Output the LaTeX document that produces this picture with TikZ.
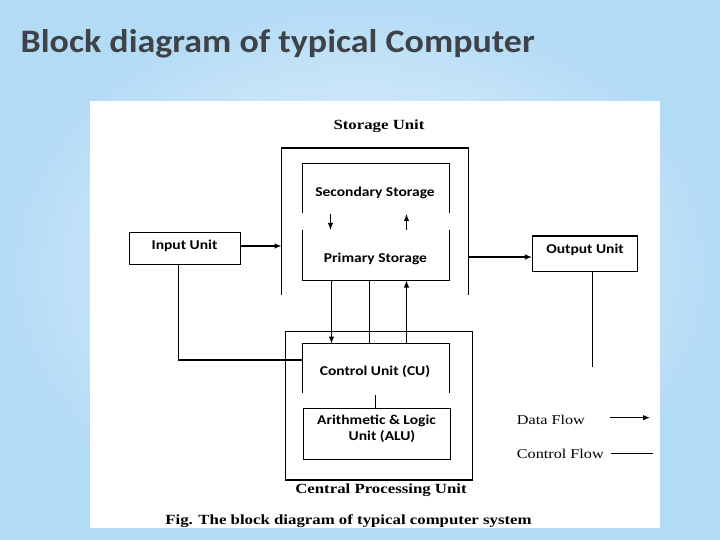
\documentclass[tikz,border=0pt]{standalone}
\usepackage{fontspec}
\usepackage{graphicx}
\usetikzlibrary{arrows.meta,calc}
\setmainfont{Liberation Serif}
\newfontfamily\lblfont{Carlito}
\definecolor{titlegray}{HTML}{3E4249}
\definecolor{bginner}{HTML}{F2F9FE}
\definecolor{bgouter}{HTML}{B4DBF5}
\newcommand\hsc[1]{\scalebox{1.15}[1]{#1}}
\newcommand\hsserif[1]{\scalebox{1.2}[1]{#1}}
\newcommand\hslegend[1]{\scalebox{1.2}[1]{#1}}
\begin{document}
\begin{tikzpicture}[x=1pt,y=-1pt,
  wire/.style={draw=black, line width=1.1pt},
  box/.style={draw=black, line width=1.1pt, rectangle, inner sep=0pt, fill=white},
  lbl/.style={font=\lblfont\bfseries\fontsize{13.5}{16}\selectfont, inner sep=0pt, anchor=base},
  ser/.style={font=\bfseries\fontsize{14}{16}\selectfont, inner sep=0pt, anchor=base},
  leg/.style={font=\fontsize{13.5}{15}\selectfont, inner sep=0pt, anchor=base west},
  arr/.style={wire, -{Latex[length=7pt,width=5.5pt]}},
]
\shade[inner color=bginner, outer color=bgouter] (0,0) rectangle (720,540);
\useasboundingbox (0,0) rectangle (720,540);
\fill[white] (89.5,101.5) rectangle (660,527.5);

% title
\node[anchor=base west, inner sep=0pt, text=titlegray, font=\lblfont\bfseries\fontsize{36}{40}\selectfont] (title) at (20.5,53) {\resizebox{514pt}{23pt}{Block diagram of typical Computer}};

% storage unit outer (open bottom)
\coordinate (suBL) at (281.5,295);
\coordinate (suTL) at (281.5,148);
\coordinate (suTR) at (468.5,148);
\coordinate (suBR) at (468.5,295);
\draw[wire] (suBL) -- (suTL) -- (suTR) -- (suBR);
\node[ser] (sulabel) at (379,129.5) {\hsserif{Storage Unit}};

% secondary storage bracket
\coordinate (ssBL) at (302.5,213);
\coordinate (ssTL) at (302.5,163.5);
\coordinate (ssTR) at (449.5,163.5);
\coordinate (ssBR) at (449.5,213);
\draw[wire] (ssBL) -- (ssTL) -- (ssTR) -- (ssBR);
\node[lbl] (sslabel) at (375,196.5) {\hsc{Secondary Storage}};

% primary storage bracket
\coordinate (psTL) at (302.5,230);
\coordinate (psBL) at (302.5,280.5);
\coordinate (psBR) at (449.5,280.5);
\coordinate (psTR) at (449.5,230);
\draw[wire] (psTL) -- (psBL) -- (psBR) -- (psTR);
\node[lbl] (pslabel) at (375.5,262.5) {\hsc{Primary Storage}};

% secondary <-> primary arrows
\coordinate (d1s) at (330.5,214);
\coordinate (d1e) at (330.5,230);
\coordinate (u1s) at (406.5,230);
\coordinate (u1e) at (406.5,214);
\draw[arr] (d1s) -- (d1e);
\draw[arr] (u1s) -- (u1e);

% input unit
\node[box, minimum width=111pt, minimum height=32pt] (input) at (185,248.5) {};
\node[lbl] (inlabel) at (184.5,249.5) {\hsc{Input Unit}};
\coordinate (inT) at (281.5,246);
\draw[arr] (input.east |- inT) -- (inT);

% output unit
\node[box, minimum width=105pt, minimum height=35.5pt] (output) at (585,253.75) {};
\node[lbl] (outlabel) at (585,253) {\hsc{Output Unit}};
\coordinate (outS) at (468.5,257);
\draw[arr] (outS) -- (outS -| output.west);
\coordinate (outEnd) at (592.5,366.7);
\draw[wire] (output.south -| outEnd) -- (outEnd);

% CPU outer
\node[box, fill=none, minimum width=187pt, minimum height=148.5pt] (cpu) at (379,405.75) {};
\node[ser] (cpulabel) at (381,493) {\hsserif{Central Processing Unit}};

% control unit bracket (open bottom)
\coordinate (cuBL) at (302.5,393);
\coordinate (cuTL) at (302.5,343.5);
\coordinate (cuTR) at (449.5,343.5);
\coordinate (cuBR) at (449.5,393);
\draw[wire] (cuBL) -- (cuTL) -- (cuTR) -- (cuBR);
\node[lbl] (culabel) at (375,375.7) {\hsc{Control Unit (CU)}};

% ALU
\node[box, minimum width=147pt, minimum height=51pt] (alu) at (377,434) {};
\node[lbl] (alulabel1) at (376.5,424.3) {\hsc{Arithmetic \& Logic}};
\node[lbl] (alulabel2) at (382,440) {\hsc{Unit (ALU)}};
\coordinate (cuAluTop) at (375.5,395);
\draw[wire] (cuAluTop) -- (cuAluTop |- alu.north);

% input -> control unit (control flow)
\coordinate (inCorner) at (178.5,360);
\draw[wire] (input.south -| inCorner) -- (inCorner) -- (inCorner -| cuTL);

% primary storage <-> control unit
\coordinate (p1) at (331.5,280.5);
\coordinate (p2) at (369.5,280.5);
\coordinate (p3) at (406.5,280.5);
\draw[arr] (p1) -- (p1 |- cuTL);
\draw[wire] (p2) -- (p2 |- cuTL);
\draw[arr] (p3 |- cuTL) -- (p3);

% legend
\node[leg] (dflabel) at (516.7,424) {\hslegend{Data Flow}};
\node[leg] (cflabel) at (516.7,458.3) {\hslegend{Control Flow}};
\coordinate (dfS) at (610,417.7);
\coordinate (dfE) at (650,417.7);
\coordinate (cfS) at (611,453.3);
\coordinate (cfE) at (653,453.3);
\draw[arr] (dfS) -- (dfE);
\draw[wire, line width=0.9pt] (cfS) -- (cfE);

% caption
\node[ser] (caption) at (348.5,524.3) {\hsserif{Fig. The block diagram of typical computer system}};
\end{tikzpicture}
\end{document}
